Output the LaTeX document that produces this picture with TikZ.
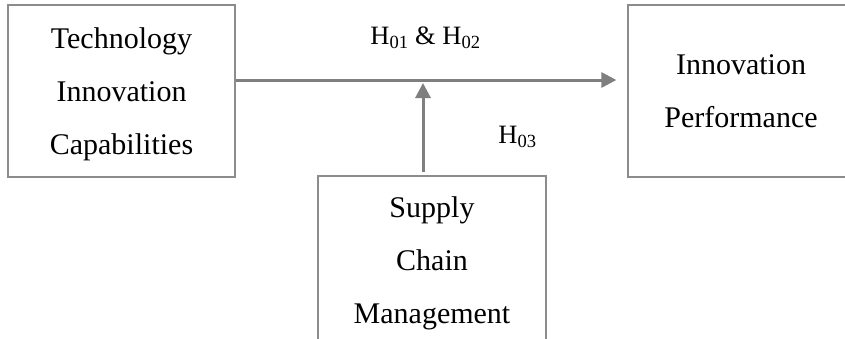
\documentclass[tikz,border=0pt]{standalone}
\usepackage{fontspec}
\setmainfont{Liberation Serif}
\usepackage{tikz}
\usetikzlibrary{positioning,arrows.meta,calc}
\definecolor{boxrule}{RGB}{140,140,140}
\definecolor{linkgray}{RGB}{127,127,127}
\tikzset{
  concept/.style={rectangle,draw=boxrule,line width=1.3pt,align=center,fill=white,text depth=0pt,font=\fontsize{30}{53}\selectfont},
  link/.style={-{Triangle[length=15pt,width=15pt]},draw=linkgray,line width=3pt},
  hyp/.style={font=\fontsize{26.5}{30}\selectfont}
}
\begin{document}
\begin{tikzpicture}[x=1pt,y=-1pt]
  \useasboundingbox (0,0) rectangle (845,338);
  \clip (0,0) rectangle (845,338);
  \node[concept,minimum width=227pt,minimum height=172pt] (tic) at (121.5,91) {Technology\\Innovation\\Capabilities};
  \node[concept,minimum width=226pt,minimum height=172pt] (ip) at (741,91) {Innovation\\Performance};
  \node[concept,minimum width=228pt,minimum height=168pt] (scm) at (432,260) {Supply\\Chain\\Management};
  \coordinate (junction) at (423,80);
  \draw[link,shorten >=11pt] (tic.east |- junction) -- (ip.west |- junction);
  \draw[link,shorten <=3pt,shorten >=3pt] (junction |- scm.north) -- (junction);
  \node[hyp] (h12) at (425.5,38) {H\textsubscript{01} \& H\textsubscript{02}};
  \node[hyp] (h3) at (517.5,137) {H\textsubscript{03}};
\end{tikzpicture}
\end{document}
